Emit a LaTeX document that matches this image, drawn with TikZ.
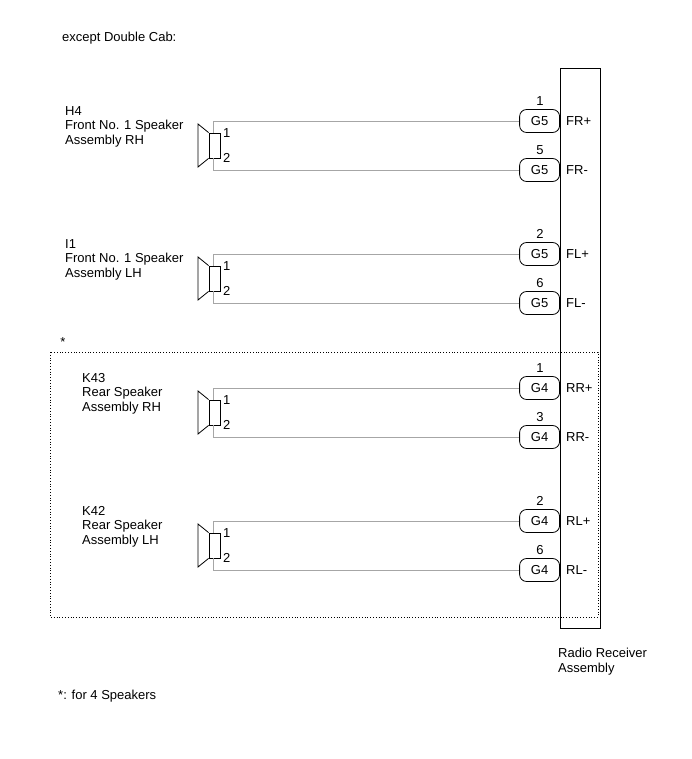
\documentclass[tikz,border=0pt]{standalone}
\usepackage{fontspec}
\setmainfont{Liberation Sans}
\begin{document}
\begin{tikzpicture}[x=1pt,y=-1pt,font=\fontsize{13}{14.5}\selectfont,
 wire/.style={draw=gray!70,line width=0.8pt},
 conn/.style={draw,rounded corners=7pt,minimum width=40pt,minimum height=23pt,inner sep=0pt,anchor=east,line width=0.8pt},
 lbl/.style={anchor=north west,align=left,inner sep=0pt}]
\useasboundingbox (0,0) rectangle (691,759);
\node[anchor=west,inner sep=0pt] (title) at (62,38) {except Double Cab:};
\node[draw,line width=0.8pt,minimum width=40pt,minimum height=560pt,inner sep=0pt,anchor=north west] (rr) at (560,68) {};
\node[lbl] (rrl) at (558,648) {Radio Receiver\\Assembly};
\draw[dotted,line width=0.8pt] (50,352) rectangle (598,617);
\node[inner sep=0pt] (star) at (63,342) {*};
\node[lbl] (foot) at (58,690) {*: for 4 Speakers};
\newcommand{\spk}[9]{%
 \node[lbl] (l#9) at (#2,#1-15) {#3};
 \node[draw,line width=0.8pt,minimum width=11pt,minimum height=25pt,inner sep=0pt] (b#9) at (214.5,#1+24.5) {};
 \draw[line width=0.8pt] (b#9.north west) -- (198,#1+3) -- (198,#1+46) -- (b#9.south west);
 \node[anchor=west,inner sep=0pt] (p1#9) at (223,#1+12) {1};
 \node[anchor=west,inner sep=0pt] (p2#9) at (223,#1+37) {2};
 \node[conn] (ca#9) at (560,#1) {#4};
 \node[conn] (cb#9) at (560,#1+49) {#4};
 \node[inner sep=0pt] at (540,#1-20) {#5};
 \node[inner sep=0pt] at (540,#1+29) {#7};
 \node[anchor=west,inner sep=0pt] at (566,#1) {#6};
 \node[anchor=west,inner sep=0pt] at (566,#1+49) {#8};
 \coordinate (ta#9) at (213,#1);
 \coordinate (tb#9) at (213,#1+49);
 \draw[wire] (ca#9.west) -- (ta#9) -- (b#9.north -| ta#9);
 \draw[wire] (cb#9.west) -- (tb#9) -- (b#9.south -| tb#9);
}
\spk{121}{65}{H4\\Front No. 1 Speaker\\Assembly RH}{G5}{1}{FR+}{5}{FR-}{a}
\spk{254}{65}{I1\\Front No. 1 Speaker\\Assembly LH}{G5}{2}{FL+}{6}{FL-}{b}
\spk{388}{82}{K43\\Rear Speaker\\Assembly RH}{G4}{1}{RR+}{3}{RR-}{c}
\spk{521}{82}{K42\\Rear Speaker\\Assembly LH}{G4}{2}{RL+}{6}{RL-}{d}
\end{tikzpicture}
\end{document}
